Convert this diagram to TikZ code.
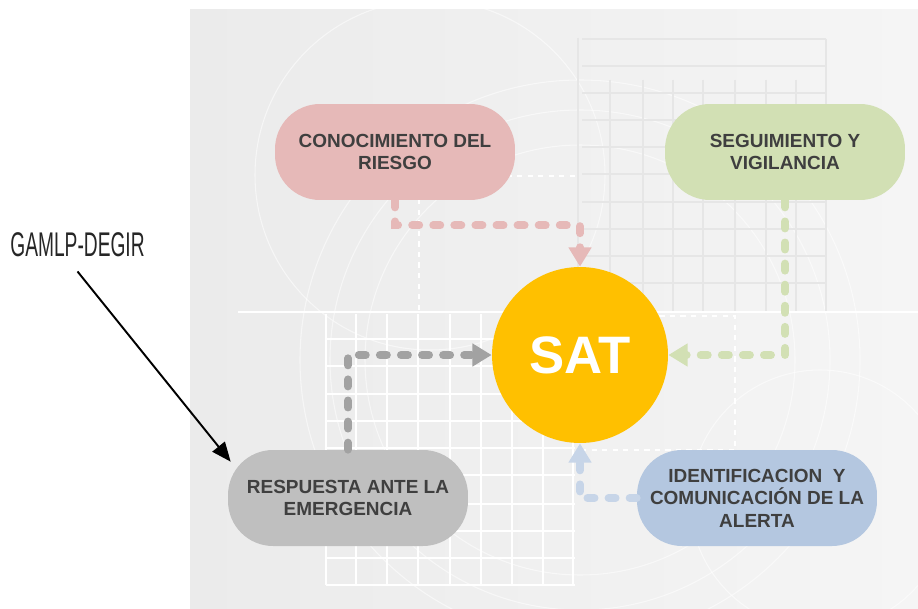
\documentclass[tikz,border=0pt]{standalone}
\usepackage{fontspec}
\setmainfont{Liberation Sans}
\newfontfamily\condfont{Liberation Sans}[FakeStretch=0.56]
\usepackage{tikz}
\usetikzlibrary{arrows.meta,positioning,calc}
\definecolor{riskred}{HTML}{E6B9B8}
\definecolor{watchgreen}{HTML}{D2E0B4}
\definecolor{responsegray}{HTML}{BFBFBF}
\definecolor{alertblue}{HTML}{B4C7E0}
\definecolor{satyellow}{HTML}{FFC000}
\definecolor{textgray}{HTML}{3F3F3F}
\definecolor{panelgray}{HTML}{EBEBEB}
\definecolor{panellight}{HTML}{F5F5F5}
\definecolor{gridgray}{HTML}{E6E6E6}

\begin{document}
\begin{tikzpicture}[
    x=0.02cm, y=-0.02cm,
    stage/.style={rectangle, rounded corners=0.9cm, minimum width=4.8cm, minimum height=1.92cm, align=center, text=textgray, font=\fontsize{10.8}{12.8}\selectfont\bfseries},
    flow/.style={line width=4.5pt, line cap=round, dash pattern=on 4pt off 8pt, -{Triangle[width=12.5pt,length=11pt]}},
    gridline/.style={draw=gridgray, line width=0.6pt},
    whiteline/.style={draw=white, line width=0.8pt},
    ring/.style={draw=white, line width=0.6pt, opacity=0.55},
    pointer/.style={-{Triangle[width=9pt,length=11pt]}, line width=1.1pt, black}
]
    \useasboundingbox (0,0) rectangle (918,608);

    % Background panel
    \shade[left color=panelgray, right color=panellight] (190,10) rectangle (918,608);
    \draw[ring] (430,175) circle (175);
    \draw[ring] (580,360) circle (215);
    \draw[ring] (580,360) circle (250);
    \draw[ring] (580,360) circle (280);
    \draw[ring] (820,500) circle (130);

    % Grid top right
    \draw[gridline] (578,38) -- (578,312);
    \foreach \y in {39,66,93,120,147,174,202,229,256,283}
        \draw[gridline] (582,\y) -- (826,\y);
    \draw[gridline] (826,39) -- (826,312);
    \foreach \x in {610,643,673,703,735,766,796}
        \draw[gridline] (\x,80) -- (\x,312);

    % Grid bottom left
    \foreach \y in {339,366,394,421,448,475,504,531,558,585}
        \draw[whiteline] (326,\y) -- (575,\y);
    \foreach \x in {326,356,387,418,450,481,512,543,573}
        \draw[whiteline] (\x,314) -- (\x,585);
    \draw[whiteline] (238,312) -- (918,312);
    \draw[whiteline, dashed] (575,176) -- (419,176) -- (419,310);
    \draw[whiteline, dashed] (575,316) -- (735,316) -- (735,450) -- (584,450);

    % Stages
    \node[circle, fill=satyellow, minimum size=3.52cm, inner sep=0pt, text=white, font=\fontsize{30}{30}\selectfont\bfseries] (sat) at (580,355) {SAT};
    \node[stage, fill=riskred] (riesgo) at (395,152) {CONOCIMIENTO DEL\\RIESGO};
    \node[stage, fill=watchgreen] (vigilancia) at (785,152) {SEGUIMIENTO Y\\VIGILANCIA};
    \node[stage, fill=responsegray] (respuesta) at (348,498) {RESPUESTA ANTE LA\\EMERGENCIA};
    \node[stage, fill=alertblue] (alerta) at (757,498) {IDENTIFICACION \ Y\\COMUNICACIÓN DE LA\\ALERTA};

    % Flows
    \draw[flow, riskred] (riesgo.south) -- ++(0,25) -| (sat.north);
    \draw[flow, watchgreen] (vigilancia.south) |- (sat.east);
    \draw[flow, responsegray!85!black] (respuesta.north) |- (sat.west);
    \draw[flow, alertblue!75!white] (alerta.west) -| (sat.south);

    % Label
    \node[font=\condfont\fontsize{19.5}{20}\selectfont, text=black!85, anchor=west, inner sep=0pt] (gamlp) at (10,245) {GAMLP-DEGIR};
    \draw[pointer] ([shift={(0,14)}]gamlp.south) -- ([shift={(3,12)}]respuesta.north west);
\end{tikzpicture}
\end{document}
